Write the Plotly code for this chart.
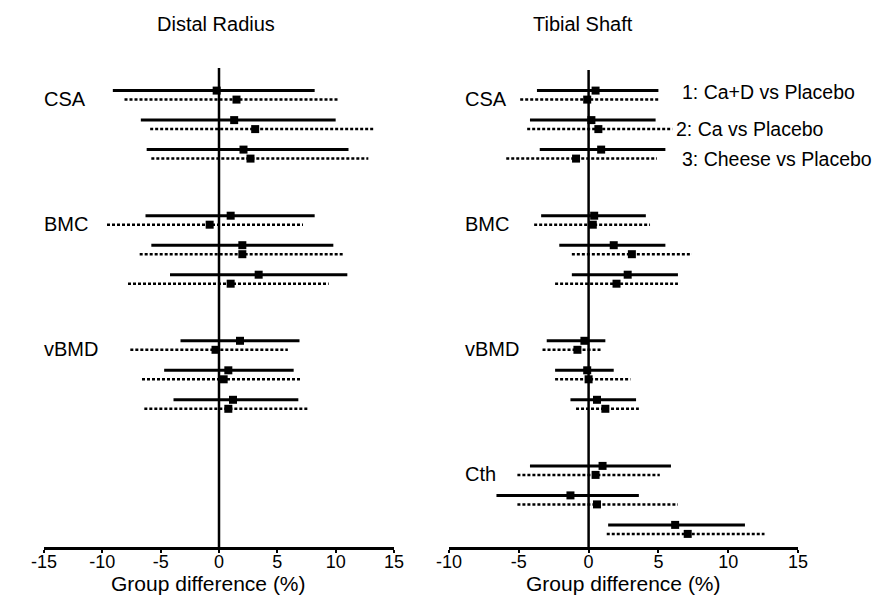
import plotly.graph_objects as go

# ---------------- data ----------------
comparisons = ["1: Ca+D vs Placebo", "2: Ca vs Placebo", "3: Cheese vs Placebo"]
radius_outcomes = ["CSA", "BMC", "vBMD"]
tibia_outcomes = ["CSA", "BMC", "vBMD", "Cth"]
x_ticks = [-15, -10, -5, 0, 5, 10, 15]

# Distal radius, solid lines (order: outcome x comparison)
rad_solid_est = [-0.2, 1.3, 2.1,   1.0, 2.0, 3.4,   1.8, 0.8, 1.2]
rad_solid_lo  = [-9.1, -6.7, -6.2, -6.3, -5.8, -4.2, -3.3, -4.7, -3.9]
rad_solid_hi  = [8.2, 10.0, 11.1,  8.2, 9.8, 11.0,  6.9, 6.4, 6.8]
# Distal radius, dotted lines
rad_dot_est = [1.5, 3.1, 2.7,   -0.8, 2.0, 1.0,   -0.3, 0.4, 0.8]
rad_dot_lo  = [-8.1, -5.9, -5.8, -9.6, -6.8, -7.8, -7.6, -6.6, -6.4]
rad_dot_hi  = [10.3, 13.3, 12.8, 7.2, 10.6, 9.4,  5.9, 7.0, 7.6]

# Tibial shaft, solid lines
tib_solid_est = [0.5, 0.2, 0.9,   0.4, 1.8, 2.8,   -0.3, -0.1, 0.6,   1.0, -1.3, 6.2]
tib_solid_lo  = [-3.7, -4.2, -3.5, -3.4, -2.1, -1.2, -3.0, -2.4, -1.3, -4.2, -6.6, 1.4]
tib_solid_hi  = [5.0, 4.8, 5.5,   4.1, 5.5, 6.4,   1.2, 1.8, 3.4,   5.9, 3.6, 11.2]
# Tibial shaft, dotted lines
tib_dot_est = [-0.1, 0.7, -0.9,   0.3, 3.1, 2.0,   -0.8, 0.0, 1.2,   0.5, 0.6, 7.1]
tib_dot_lo  = [-4.9, -4.4, -5.9, -3.9, -1.2, -2.4, -3.3, -2.4, -0.9, -5.1, -5.1, 1.3]
tib_dot_hi  = [5.1, 6.0, 4.9,   4.4, 7.4, 6.4,   0.9, 3.0, 3.6,   5.1, 6.4, 12.6]

# ---------------- layout constants ----------------
W, H = 874, 598
T, B = 68, 51
FONT = "Liberation Sans, Arial, Helvetica, sans-serif"
GROUP_GAP, GROUP_BASE, COMP_GAP, DOT_OFF = 125.1, 2.6, 29.5, 9.0
Y_RANGE = [459, -20]


def py(p):
    """pixel row -> paper y (paper spans the plot area)"""
    return (H - B - p) / (H - T - B)


def ypos(idx, dotted):
    g, c = divmod(idx, 3)
    return GROUP_BASE + g * GROUP_GAP + c * COMP_GAP + (DOT_OFF if dotted else 0)


def ci_traces(est, lo, hi, dotted, xa, ya):
    xs, ys = [], []
    for i, (a, b) in enumerate(zip(lo, hi)):
        y = ypos(i, dotted)
        xs += [a, b, None]
        ys += [y, y, None]
    line = dict(color="black", width=2.5, dash="3px,2px") if dotted else dict(color="black", width=3)
    t_line = go.Scatter(x=xs, y=ys, mode="lines", line=line, xaxis=xa, yaxis=ya,
                        hoverinfo="skip", showlegend=False)
    t_mark = go.Scatter(x=est, y=[ypos(i, dotted) for i in range(len(est))], mode="markers",
                        marker=dict(symbol="square", size=8, color="black"),
                        xaxis=xa, yaxis=ya, showlegend=False)
    return [t_line, t_mark]


fig = go.Figure()
for tr in (ci_traces(rad_solid_est, rad_solid_lo, rad_solid_hi, False, "x", "y")
           + ci_traces(rad_dot_est, rad_dot_lo, rad_dot_hi, True, "x", "y")
           + ci_traces(tib_solid_est, tib_solid_lo, tib_solid_hi, False, "x2", "y2")
           + ci_traces(tib_dot_est, tib_dot_lo, tib_dot_hi, True, "x2", "y2")):
    fig.add_trace(tr)

xaxis_common = dict(showline=True, linewidth=2.5, linecolor="black", ticks="outside",
                    ticklen=3, tickwidth=1.5, tickcolor="black", showgrid=False,
                    zeroline=False, tickvals=x_ticks, ticktext=[str(v) for v in x_ticks],
                    tickfont=dict(family=FONT, size=18, color="black"), fixedrange=True,
                    automargin=False, ticklabelstandoff=-6)
yaxis_common = dict(range=Y_RANGE, visible=False, showgrid=False, zeroline=False,
                    fixedrange=True, automargin=False)

fig.update_layout(
    template="none",
    width=W, height=H,
    margin=dict(l=0, r=0, t=T, b=B, pad=0),
    paper_bgcolor="white", plot_bgcolor="white",
    xaxis=dict(domain=[44 / W, 394 / W], range=[-15, 15], anchor="y", **xaxis_common),
    xaxis2=dict(domain=[449 / W, 798 / W], range=[-10, 15], anchor="y2", **xaxis_common),
    yaxis=dict(anchor="x", **yaxis_common),
    yaxis2=dict(anchor="x2", **yaxis_common),
)

# zero reference lines
fig.add_shape(type="line", xref="x", yref="y domain", x0=0, x1=0, y0=0, y1=1,
              line=dict(color="black", width=2.5))
fig.add_shape(type="line", xref="x2", yref="y2 domain", x0=0, x1=0, y0=0, y1=0.996,
              line=dict(color="black", width=2.5))

txt = dict(family=FONT, size=20, color="black")
ann = []
# panel titles
ann.append(dict(text="Distal Radius", xref="paper", yref="paper", x=216 / W, y=py(24),
                xanchor="center", yanchor="middle", showarrow=False, font=txt))
ann.append(dict(text="Tibial Shaft", xref="paper", yref="paper", x=583 / W, y=py(24),
                xanchor="center", yanchor="middle", showarrow=False, font=txt))
# x-axis titles
for cx in (208, 623):
    ann.append(dict(text="Group difference (%)", xref="paper", yref="paper", x=cx / W,
                    y=py(583), xanchor="center", yanchor="middle", showarrow=False,
                    font=dict(family=FONT, size=21, color="black")))
# outcome labels
for g, name in enumerate(radius_outcomes):
    ann.append(dict(text=name, xref="paper", yref="y", x=42 / W, y=ypos(g * 3, False) + 8,
                    xanchor="left", yanchor="middle", showarrow=False, font=txt))
for g, name in enumerate(tibia_outcomes):
    ann.append(dict(text=name, xref="paper", yref="y2", x=463 / W, y=ypos(g * 3, False) + 8,
                    xanchor="left", yanchor="middle", showarrow=False, font=txt))
# comparison key
key_x = [680, 674, 680]
key_dot = [False, True, True]
for c, name in enumerate(comparisons):
    ann.append(dict(text=name, xref="paper", yref="y2", x=key_x[c] / W,
                    y=ypos(c, key_dot[c]) + (0 if key_dot[c] else 1),
                    xanchor="left", yanchor="middle", showarrow=False,
                    font=dict(family=FONT, size=19.5, color="black")))
fig.update_layout(annotations=ann)

fig.write_html("out.html", config={"displayModeBar": False},
               post_script="document.body.style.margin='0';")
